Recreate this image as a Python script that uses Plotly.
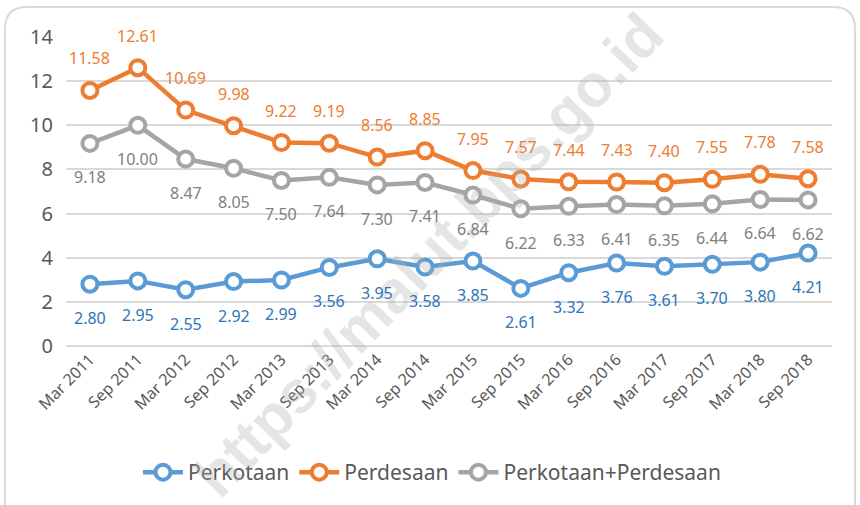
import plotly.graph_objects as go

categories = ["Mar 2011", "Sep 2011", "Mar 2012", "Sep 2012", "Mar 2013", "Sep 2013",
              "Mar 2014", "Sep 2014", "Mar 2015", "Sep 2015", "Mar 2016", "Sep 2016",
              "Mar 2017", "Sep 2017", "Mar 2018", "Sep 2018"]
perkotaan = [2.80, 2.95, 2.55, 2.92, 2.99, 3.56, 3.95, 3.58, 3.85, 2.61, 3.32, 3.76, 3.61, 3.70, 3.80, 4.21]
perdesaan = [11.58, 12.61, 10.69, 9.98, 9.22, 9.19, 8.56, 8.85, 7.95, 7.57, 7.44, 7.43, 7.40, 7.55, 7.78, 7.58]
gabungan = [9.18, 10.00, 8.47, 8.05, 7.50, 7.64, 7.30, 7.41, 6.84, 6.22, 6.33, 6.41, 6.35, 6.44, 6.64, 6.62]
y_ticks = [0, 2, 4, 6, 8, 10, 12, 14]

FONT = "Noto Sans"
series = [
    ("Perkotaan", perkotaan, "#5B9BD5", "#2E75B6", -34),
    ("Perdesaan", perdesaan, "#ED7D31", "#ED7D31", 32),
    ("Perkotaan+Perdesaan", gabungan, "#A5A5A5", "#808080", -34),
]

fig = go.Figure()
annotations = []

# plot-area geometry (pixels)
L, R, T, B = 66, 832, 37, 346
W, H = R - L, B - T
def px(x):
    return (x - L) / W
def py(y):
    return (B - y) / H

annotations.append(dict(x=px(428), y=py(255), xref="paper", yref="paper",
                        xanchor="center", yanchor="middle",
                        text="<b>https://malut.bps.go.id</b>", showarrow=False, textangle=-46,
                        font=dict(family="Liberation Sans", size=60, color="rgba(175,175,175,0.33)")))

for name, vals, col, lcol, shift in series:
    fig.add_trace(go.Scatter(
        x=categories, y=vals, name=name, mode="lines+markers",
        line=dict(color=col, width=4.5),
        marker=dict(symbol="circle", size=15, color="white", line=dict(color=col, width=4)),
    ))
    for c, v in zip(categories, vals):
        annotations.append(dict(x=c, y=v, xref="x", yref="y", text=f"{v:.2f}",
                                showarrow=False, yshift=shift,
                                font=dict(family=FONT, size=16, color=lcol)))

x0, x1, y0, y1, r = 5, 855, 7, 520, 22
path = (f"M {px(x0)},{py(y1)} L {px(x0)},{py(y0 + r)} "
        f"Q {px(x0)},{py(y0)} {px(x0 + r)},{py(y0)} "
        f"L {px(x1 - r)},{py(y0)} Q {px(x1)},{py(y0)} {px(x1)},{py(y0 + r)} "
        f"L {px(x1)},{py(y1)}")

fig.update_layout(
    width=860, height=505,
    margin=dict(l=L, r=860 - R, t=T, b=505 - B, autoexpand=False),
    paper_bgcolor="white", plot_bgcolor="white",
    font=dict(family=FONT, color="#595959"),
    showlegend=True,
    legend=dict(orientation="h", x=px(432), xanchor="center", y=py(452), yanchor="top",
                font=dict(family=FONT, size=21, color="#595959"), itemwidth=40),
    annotations=annotations,
    shapes=[dict(type="path", path=path, xref="paper", yref="paper",
                 line=dict(color="#D9D9D9", width=2), layer="below")],
)
fig.update_xaxes(type="category", range=[-0.5, 15.5], tickangle=-45,
                 tickfont=dict(family=FONT, size=16, color="#595959"),
                 showgrid=False, showline=False, ticks="")
fig.update_yaxes(range=[0, 14], tickvals=y_ticks, showgrid=True, gridcolor="#D9D9D9",
                 gridwidth=1.5, zeroline=True, zerolinecolor="#D9D9D9", zerolinewidth=1.5,
                 tickfont=dict(family=FONT, size=20, color="#595959"), ticks="",
                 ticklabelstandoff=12)

fig.write_html("out.html", config={"displayModeBar": False},
               post_script="document.body.style.margin='0';document.body.style.padding='0';")
